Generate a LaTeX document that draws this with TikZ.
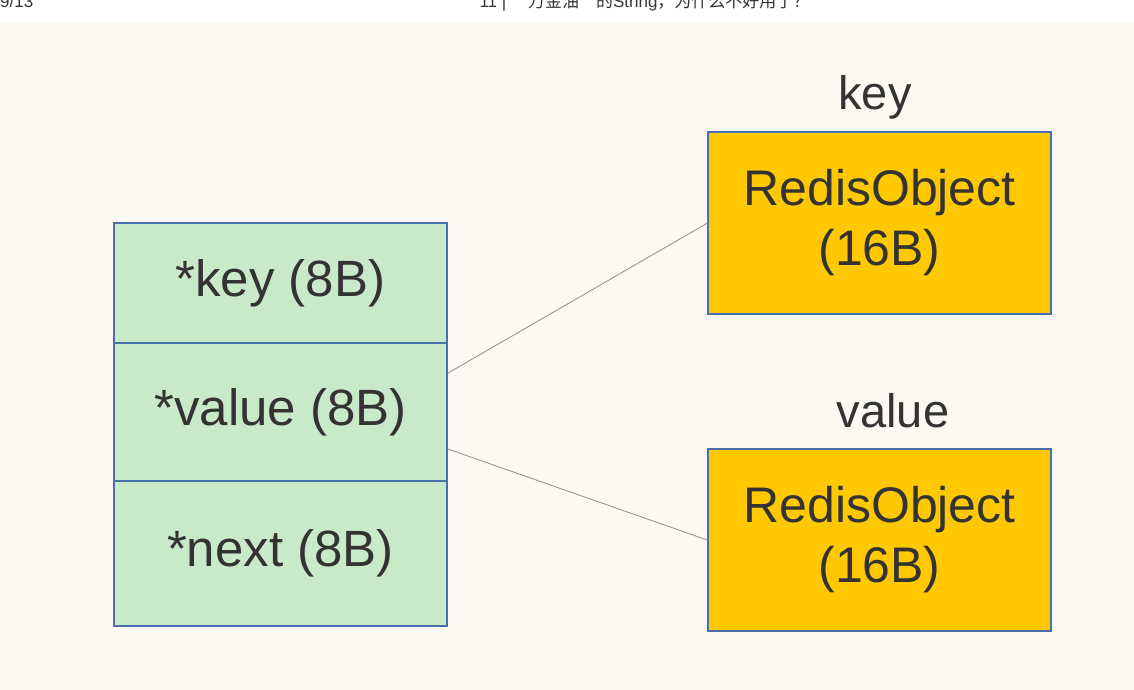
\documentclass[tikz,border=0pt]{standalone}
\usepackage{fontspec}
\setmainfont{Liberation Sans}
\newfontfamily\cjk{Noto Sans CJK SC}
\definecolor{bgcream}{RGB}{251,249,242}
\definecolor{cellgreen}{RGB}{201,234,200}
\definecolor{boxyellow}{RGB}{255,200,0}
\definecolor{edgeblue}{RGB}{72,112,172}
\definecolor{linkgray}{RGB}{150,150,150}
\definecolor{txt}{RGB}{51,51,51}
\tikzset{
  cell/.style={draw=edgeblue, line width=1.6pt, fill=cellgreen, minimum width=333pt, inner sep=0pt, text=txt, font=\fontsize{51}{58}\selectfont},
  objbox/.style={draw=edgeblue, line width=1.6pt, fill=boxyellow, minimum width=343pt, minimum height=182pt, inner sep=0pt, text=txt, align=center, font=\fontsize{50}{60}\selectfont},
  lbl/.style={text=txt, inner sep=0pt, font=\fontsize{47}{56}\selectfont},
  link/.style={draw=linkgray, line width=0.9pt},
  hdr/.style={text=txt, inner sep=0pt, font=\fontsize{17}{20}\selectfont}
}
\begin{document}
\begin{tikzpicture}[x=1pt,y=-1pt]
\useasboundingbox (0,0) rectangle (1134,690);
\fill[white] (0,0) rectangle (1134,690);
\fill[bgcream] (0,22) rectangle (1134,690);
% header (cut at top, as in the reference)
\node[hdr, anchor=base west] (pg) at (0,8) {9/13};
\node[hdr, anchor=base] (title) at (645,8) {11 | {\cjk “万金油”的}String{\cjk ，为什么不好用了？}};
% left column
\node[cell, minimum height=120pt] (k) at (280.5,283) {*key (8B)};
\node[cell, minimum height=138pt] (v) at (280.5,412) {*value (8B)};
\node[cell, minimum height=145pt] (n) at (280.5,553.5) {*next (8B)};
% right boxes
\node[objbox] (ko) at (879.5,223) {RedisObject\\(16B)};
\node[objbox] (vo) at (879.5,540) {RedisObject\\(16B)};
\node[lbl] (kl) at (875,97) {key};
\node[lbl] (vl) at (893,411) {value};
% connectors
\draw[link] ([yshift=-31pt]v.north east) -- ([yshift=-92pt]ko.north west);
\draw[link] ([yshift=-37pt]v.center -| v.east) -- (vo.west);
\end{tikzpicture}
\end{document}
